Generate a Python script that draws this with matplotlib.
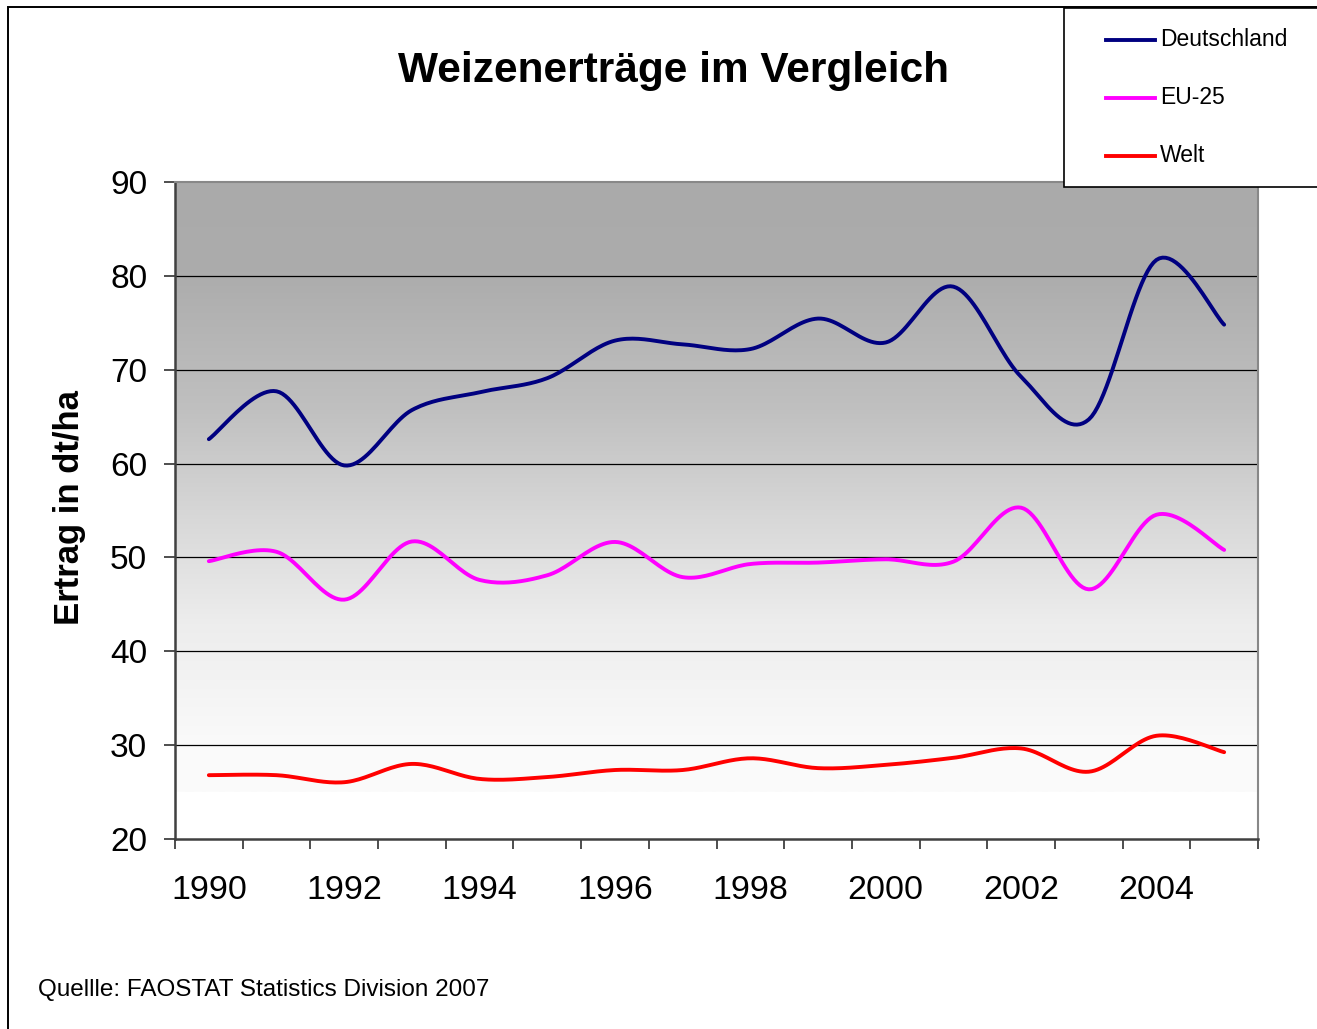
import matplotlib
matplotlib.use('Agg')
import matplotlib.pyplot as plt
import numpy as np
from matplotlib.patches import Rectangle
from matplotlib.lines import Line2D

plt.rcParams['font.family'] = ['Liberation Sans', 'DejaVu Sans']

# values (dt/ha)
years = list(range(1990, 2006))
deutschland = [62.6, 67.7, 59.8, 65.7, 67.6, 69.1, 73.1, 72.7, 72.2, 75.45, 72.9, 78.85, 69.25, 64.7, 81.7, 74.8]
eu25 = [49.6, 50.6, 45.5, 51.7, 47.6, 48.1, 51.65, 47.9, 49.3, 49.45, 49.8, 49.55, 55.3, 46.6, 54.55, 50.8]
welt = [26.8, 26.8, 26.05, 28.0, 26.4, 26.6, 27.35, 27.35, 28.6, 27.55, 27.9, 28.65, 29.65, 27.17, 31.0, 29.25]
series_names = ['Deutschland', 'EU-25', 'Welt']
series_colors = ['#000080', '#FF00FF', '#FF0000']
tick_years = years[::2]

W, H = 1317, 1029


def smooth(vals, n=24):
    # excel-like smoothed line (catmull-rom as cubic bezier)
    pts = np.column_stack([np.arange(len(vals)), vals]).astype(float)
    P = np.vstack([pts[0], pts, pts[-1]])
    out = []
    t = np.linspace(0, 1, n)[:, None]
    for i in range(len(pts) - 1):
        p0, p1, p2, p3 = P[i], P[i + 1], P[i + 2], P[i + 3]
        c1 = p1 + (p2 - p0) / 6
        c2 = p2 - (p3 - p1) / 6
        seg = (1 - t)**3 * p1 + 3 * (1 - t)**2 * t * c1 + 3 * (1 - t) * t**2 * c2 + t**3 * p2
        out.append(seg if i == 0 else seg[1:])
    return np.vstack(out)


fig = plt.figure(figsize=(W / 100, H / 100), dpi=100)
ax = fig.add_axes([175 / W, 1 - 839 / H, (1258 - 175) / W, (839 - 182) / H])
ax.set_xlim(-0.5, len(years) - 0.5)
ax.set_ylim(20, 90)

# gray gradient background, white strip at the bottom
yy = np.linspace(90, 25, 300)
gray = np.interp(yy, [25, 30, 42.8, 45.5, 54, 65.7, 80.4, 90],
                 [251, 250, 237, 232, 216, 192, 172, 170])[::-1] / 255.0
grad = np.repeat(gray[::-1][:, None], 2, axis=1)
ax.imshow(np.dstack([grad, grad, grad]), extent=[-0.5, len(years) - 0.5, 25, 90],
          aspect='auto', origin='upper', zorder=0, interpolation='bilinear')

for v in range(30, 90, 10):
    ax.axhline(v, color='black', lw=0.9, zorder=1)

for vals, name, col in zip([deutschland, eu25, welt], series_names, series_colors):
    s = smooth(vals)
    ax.plot(s[:, 0], s[:, 1], color=col, lw=2.8, label=name, zorder=3,
            solid_capstyle='round', solid_joinstyle='round')

# axes styling
for side in ['left', 'bottom']:
    ax.spines[side].set_color('#404040')
    ax.spines[side].set_linewidth(1.8)
for side in ['top', 'right']:
    ax.spines[side].set_color('#888888')
    ax.spines[side].set_linewidth(1.5)

ax.set_yticks(range(20, 91, 10))
ax.tick_params(axis='y', direction='out', length=8, width=1.3, color='#404040',
               labelsize=24, pad=12)
ax.set_xticks(np.arange(-0.5, len(years), 1.0))
ax.set_xticklabels([])
ax.tick_params(axis='x', which='major', direction='out', length=7.5, width=1.3, color='#404040')
ax.set_xticks([years.index(y) for y in tick_years], minor=True)
ax.set_xticklabels([str(y) for y in tick_years], minor=True)
ax.tick_params(axis='x', which='minor', length=0, labelsize=24.5, pad=26)

# texts
fig.text(673 / W, 1 - 82 / H, 'Weizenerträge im Vergleich', ha='center', va='baseline',
         fontsize=30.5, fontweight='bold')
fig.text(70 / W, 1 - 508 / H, 'Ertrag in dt/ha', rotation=90, ha='center', va='center',
         fontsize=25, fontweight='bold')
fig.text(38 / W, 1 - 996 / H, 'Quellle: FAOSTAT Statistics Division 2007', ha='left',
         va='baseline', fontsize=17.5)

# outer chart border
fig.add_artist(Rectangle((8 / W, -0.1), 1.2, 1.1 - 7 / H, transform=fig.transFigure,
                         fill=False, edgecolor='black', lw=1.4))

# legend box (runs off the right edge like the original)
fig.add_artist(Rectangle((1064 / W, 1 - 187 / H), 0.5, (187 - 8) / H, transform=fig.transFigure,
                         facecolor='white', edgecolor='black', lw=1.2, zorder=5))
for name, col, ly, by in zip(series_names, series_colors, [40, 98, 156], [46, 104, 162]):
    fig.add_artist(Line2D([1106 / W, 1155 / W], [1 - ly / H] * 2, transform=fig.transFigure,
                          color=col, lw=2.8, zorder=6))
    fig.text(1160 / W, 1 - by / H, name, ha='left', va='baseline', fontsize=16.5, zorder=6)

fig.savefig('out.png', dpi=100)
